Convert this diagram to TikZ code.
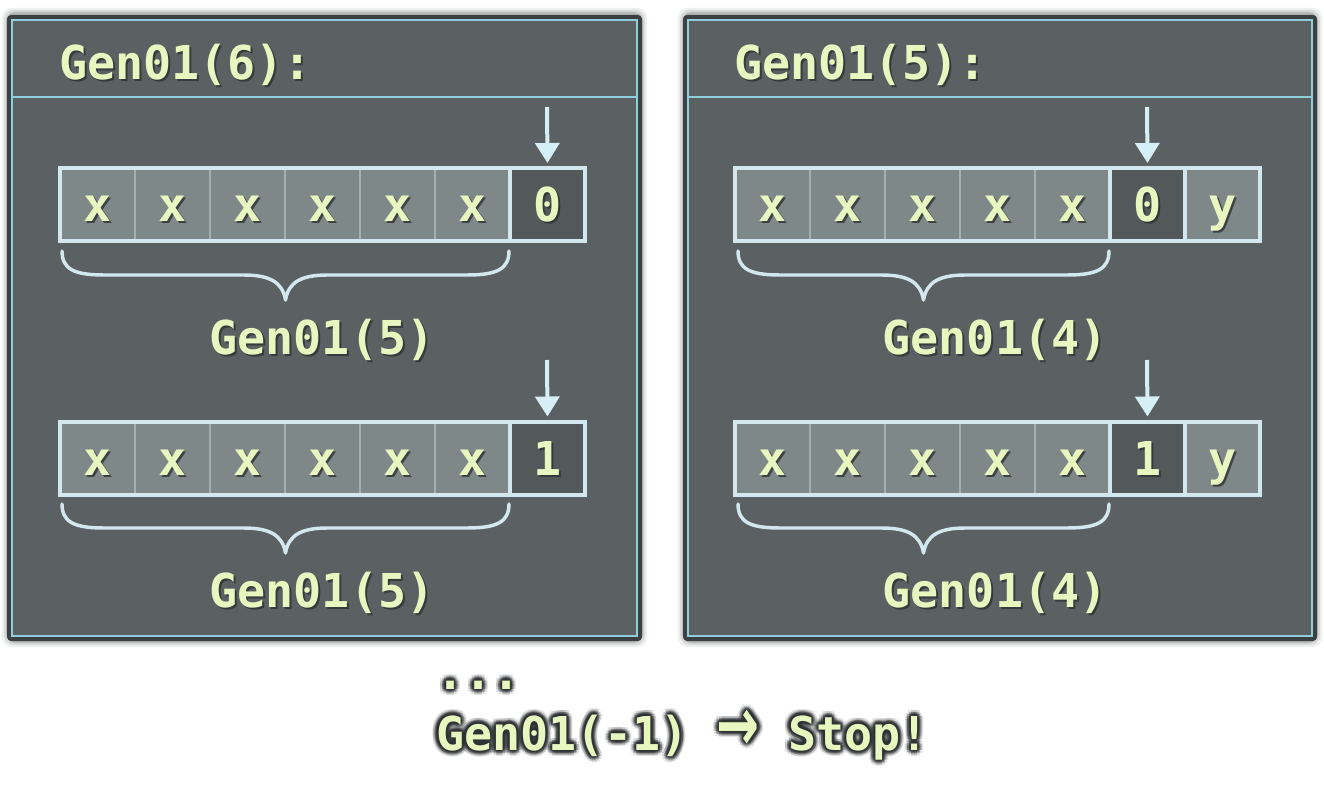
\documentclass[tikz,border=0pt]{standalone}
\usepackage{fontspec}
\setmonofont{DejaVu Sans Mono}
\newfontfamily\arrfont{DejaVu Sans}
\usetikzlibrary{arrows.meta,calc}
\definecolor{panelc}{HTML}{5B6063}
\definecolor{framec}{HTML}{3D4043}
\definecolor{cyanc}{HTML}{8DD0DC}
\definecolor{cellg}{HTML}{7E8889}
\definecolor{darkc}{HTML}{53585B}
\definecolor{borderc}{HTML}{D3E8EE}
\definecolor{sepc}{HTML}{A3B0B2}
\definecolor{txtc}{HTML}{E8F6BF}
\definecolor{shadc}{HTML}{2E3133}
\definecolor{arrc}{HTML}{D6EEF5}

\newcommand\stxt[4]{% anchor, name, pos, text
  \node[txt, text=shadc, text opacity=0.8, anchor=#1] at ($(#3)+(2,2)$) {#4};
  \node[txt, anchor=#1] (#2) at (#3) {#4};}
\newcommand\glowtxt[3]{%
  \foreach \a in {0,30,...,330} {
    \node[txt, text=shadc, text opacity=0.14, anchor=base west] at ($(#2)+(\a:4.5pt)$) {#3};
    \node[txt, text=shadc, text opacity=0.28, anchor=base west] at ($(#2)+(\a:3pt)$) {#3};
    \node[txt, text=shadc, text opacity=0.4, anchor=base west] at ($(#2)+(\a:1.6pt)$) {#3};}
  \node[txt, anchor=base west] (#1) at (#2) {#3};}
\newcommand\panelbox[2]{%
  \foreach \e/\o in {9/0.08,7/0.12,5/0.2} {
    \fill[framec, opacity=\o, rounded corners=7] (#1-\e-1,20-\e-3) rectangle (#2+\e+1,636+\e+2);}
  \fill[framec, rounded corners=3] (#1-5,15) rectangle (#2+5,641);
  \fill[panelc] (#1,20) rectangle (#2,636);
  \draw[cyanc, line width=1.5pt] (#1,20) rectangle (#2,636);
  \draw[cyanc, line width=1.5pt] (#1,97) -- (#2,97);}
\newcommand\cellrow[4]{%
  \foreach \t/\s [count=\i] in {#4} {
    \node[\s] (#1\i) at (#2+\i*75-37.5, #3) {};
    \coordinate (#1b\i) at ($(#1\i.center)+(0,17.5)$);
    \stxt{base}{#1t\i}{#1b\i}{\t}
  }}
\newcommand\bracex[3]{%
  \pgfmathsetmacro\bmid{(#1+#2)/2}
  \draw[bracestyle] (#1,#3) .. controls (#1,#3+18) and (#1+12,#3+24) .. (#1+42,#3+24)
    -- (\bmid-42,#3+24) .. controls (\bmid-16,#3+24) and (\bmid-3,#3+31) .. (\bmid,#3+49)
    .. controls (\bmid+3,#3+31) and (\bmid+16,#3+24) .. (\bmid+42,#3+24)
    -- (#2-42,#3+24) .. controls (#2-12,#3+24) and (#2,#3+18) .. (#2,#3);}

\begin{document}
\begin{tikzpicture}[x=0.75pt,y=-0.75pt,
  txt/.style={font=\ttfamily\bfseries\fontsize{35}{35}\selectfont, text=txtc, inner sep=0pt, outer sep=0pt},
  cell/.style={draw=sepc, line width=0.8pt, fill=cellg, minimum width=56.25pt, minimum height=54.75pt, inner sep=0pt, outer sep=0pt},
  dcell/.style={cell, fill=darkc},
  rowbox/.style={draw=borderc, line width=3pt},
  downarr/.style={draw=arrc, line width=3pt, -{Triangle[width=18pt,length=15pt]}},
  bracestyle/.style={draw=borderc, line width=2.6pt, line cap=round, line join=round}]
\useasboundingbox (0,0) rectangle (1324,805);
\fill[white] (0,0) rectangle (1324,805);

% panels
\panelbox{12}{637}
\panelbox{688}{1312}

% titles
\coordinate (pt1) at (59,80);
\coordinate (pt2) at (734,80);
\stxt{base west}{t1}{pt1}{Gen01(6):}
\stxt{base west}{t2}{pt2}{Gen01(5):}

% left panel rows
\cellrow{a}{60}{204.5}{x/cell,x/cell,x/cell,x/cell,x/cell,x/cell,0/dcell}
\draw[rowbox] (a1.north west) rectangle (a7.south east);
\draw[rowbox] (a7.north west) rectangle (a7.south east);
\cellrow{b}{60}{458}{x/cell,x/cell,x/cell,x/cell,x/cell,x/cell,1/dcell}
\draw[rowbox] (b1.north west) rectangle (b7.south east);
\draw[rowbox] (b7.north west) rectangle (b7.south east);

% right panel rows
\cellrow{c}{735}{204.5}{x/cell,x/cell,x/cell,x/cell,x/cell,0/dcell,y/cell}
\draw[rowbox] (c1.north west) rectangle (c7.south east);
\draw[rowbox] (c6.north west) rectangle (c6.south east);
\cellrow{d}{735}{458}{x/cell,x/cell,x/cell,x/cell,x/cell,1/dcell,y/cell}
\draw[rowbox] (d1.north west) rectangle (d7.south east);
\draw[rowbox] (d6.north west) rectangle (d6.south east);

% arrows
\coordinate (pa) at (547,107);
\coordinate (pb) at (547,360);
\coordinate (pc) at (1147,107);
\coordinate (pd) at (1147,360);
\draw[downarr] (pa) -- ($(a7.north)+(0,-5)$);
\draw[downarr] (pb) -- ($(b7.north)+(0,-5)$);
\draw[downarr] (pc) -- ($(c6.north)+(0,-5)$);
\draw[downarr] (pd) -- ($(d6.north)+(0,-5)$);

% braces
\bracex{62}{509}{251}
\bracex{62}{509}{504}
\bracex{738}{1109}{251}
\bracex{738}{1109}{504}

% brace labels
\coordinate (pla) at (322,355);
\coordinate (plb) at (322,607);
\coordinate (plc) at (995,355);
\coordinate (pld) at (995,607);
\stxt{base}{la}{pla}{Gen01(5)}
\stxt{base}{lb}{plb}{Gen01(5)}
\stxt{base}{lc}{plc}{Gen01(4)}
\stxt{base}{ld}{pld}{Gen01(4)}

% bottom text with halo
\coordinate (pdots) at (436,689);
\coordinate (pstop) at (436,750);
\glowtxt{dots}{pdots}{...}
\glowtxt{stop}{pstop}{Gen01(-1) {\arrfont\bfseries\scalebox{1.1}[1.6]{→}} Stop!}
\end{tikzpicture}
\end{document}
